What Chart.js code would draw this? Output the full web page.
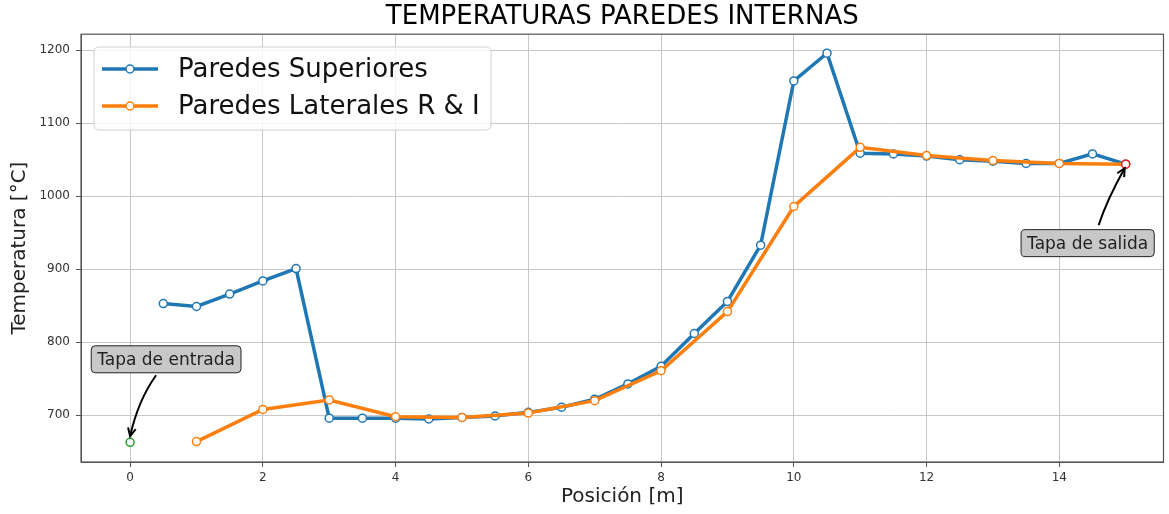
<!DOCTYPE html>
<html>
<head>
<meta charset="utf-8">
<script src="https://cdn.jsdelivr.net/npm/chart.js@4.4.0/dist/chart.umd.min.js"></script>
<style>
  html, body { margin: 0; padding: 0; background: #fff; }
</style>
</head>
<body>
<canvas id="grafico" width="1169" height="514"></canvas>
<script>
// datos
const posSuperiores = [0.5, 1, 1.5, 2, 2.5, 3, 3.5, 4, 4.5, 5, 5.5, 6, 6.5, 7, 7.5, 8, 8.5, 9, 9.5, 10, 10.5, 11, 11.5, 12, 12.5, 13, 13.5, 14, 14.5, 15];
const tempSuperiores = [853, 849, 866, 884, 901, 696, 696, 696, 695, 697, 699, 704, 711, 722, 743, 767, 812, 856, 933, 1158, 1196, 1059, 1058, 1055, 1050, 1048, 1045, 1045, 1058, 1044];

const posLaterales = [1, 2, 3, 4, 5, 6, 7, 8, 9, 10, 11, 12, 13, 14, 15];
const tempLaterales = [664, 708, 721, 698, 697, 703, 720, 761, 842, 986, 1067, 1056, 1049, 1045, 1044];

const posEntrada = [0];
const tempEntrada = [663];
const posSalida = [15];
const tempSalida = [1044];

const xTicks = [0, 2, 4, 6, 8, 10, 12, 14];
const yTicks = [700, 800, 900, 1000, 1100, 1200];

const FUENTE = "'DejaVu Sans', sans-serif";
const AZUL = '#1f77b4';
const NARANJA = '#ff7f0e';

function puntos(xs, ys) {
  return xs.map((x, i) => ({ x: x, y: ys[i] }));
}

// marco completo alrededor del area (como matplotlib)
const marco = {
  id: 'marco',
  afterDraw(chart) {
    const a = chart.chartArea, ctx = chart.ctx;
    ctx.save();
    ctx.strokeStyle = '#555';
    ctx.lineWidth = 1.2;
    ctx.strokeRect(a.left, a.top, a.right - a.left, a.bottom - a.top);
    ctx.restore();
  }
};

// leyenda dibujada a mano: linea + marcador
const leyenda = {
  id: 'leyenda',
  afterDraw(chart) {
    const ctx = chart.ctx;
    const x0 = 94, y0 = 47, w = 397, h = 83;
    ctx.save();
    ctx.fillStyle = 'rgba(255,255,255,0.8)';
    ctx.strokeStyle = '#d0d0d0';
    ctx.lineWidth = 1;
    ctx.beginPath();
    ctx.roundRect(x0, y0, w, h, 5);
    ctx.fill();
    ctx.stroke();
    const filas = [
      { texto: chart.data.datasets[0].label, color: AZUL, y: 69 },
      { texto: chart.data.datasets[1].label, color: NARANJA, y: 106 }
    ];
    filas.forEach(f => {
      ctx.strokeStyle = f.color;
      ctx.lineWidth = 3.5;
      ctx.beginPath();
      ctx.moveTo(102, f.y);
      ctx.lineTo(158, f.y);
      ctx.stroke();
      ctx.fillStyle = '#fff';
      ctx.lineWidth = 1.5;
      ctx.beginPath();
      ctx.arc(130, f.y, 4, 0, Math.PI * 2);
      ctx.fill();
      ctx.stroke();
      ctx.fillStyle = '#111';
      ctx.font = '26px ' + FUENTE;
      ctx.textBaseline = 'middle';
      ctx.textAlign = 'left';
      ctx.fillText(f.texto, 178, f.y + 1);
    });
    ctx.restore();
  }
};

// anotaciones con flecha curva
const notas = [
  { texto: 'Tapa de entrada', x: 0, y: 663, caja: [36, -83], desde: [26, -67], ctrl: [8, -42], hasta: [0, -6] },
  { texto: 'Tapa de salida', x: 15, y: 1044, caja: [-38, 79], desde: [-27, 61], ctrl: [-19, 36], hasta: [-1, 4] }
];

const anotaciones = {
  id: 'anotaciones',
  afterDraw(chart) {
    const ctx = chart.ctx;
    const sx = chart.scales.x, sy = chart.scales.y;
    ctx.save();
    ctx.font = '17px ' + FUENTE;
    notas.forEach(n => {
      const px = sx.getPixelForValue(n.x);
      const py = sy.getPixelForValue(n.y);
      // flecha
      const ax = px + n.desde[0], ay = py + n.desde[1];
      const cx = px + n.ctrl[0], cy = py + n.ctrl[1];
      const bx = px + n.hasta[0], by = py + n.hasta[1];
      ctx.strokeStyle = '#000';
      ctx.lineWidth = 2;
      ctx.beginPath();
      ctx.moveTo(ax, ay);
      ctx.quadraticCurveTo(cx, cy, bx, by);
      ctx.stroke();
      const ang = Math.atan2(by - cy, bx - cx);
      ctx.beginPath();
      ctx.moveTo(bx - 9 * Math.cos(ang - 0.45), by - 9 * Math.sin(ang - 0.45));
      ctx.lineTo(bx, by);
      ctx.lineTo(bx - 9 * Math.cos(ang + 0.45), by - 9 * Math.sin(ang + 0.45));
      ctx.stroke();
      // caja
      const tw = ctx.measureText(n.texto).width;
      const bw = tw + 12, bh = 27;
      const cxx = px + n.caja[0], cyy = py + n.caja[1];
      ctx.fillStyle = '#c8c8c8';
      ctx.strokeStyle = '#222';
      ctx.lineWidth = 1;
      ctx.beginPath();
      ctx.roundRect(cxx - bw / 2, cyy - bh / 2, bw, bh, 4);
      ctx.fill();
      ctx.stroke();
      ctx.fillStyle = '#222';
      ctx.textAlign = 'center';
      ctx.textBaseline = 'middle';
      ctx.fillText(n.texto, cxx, cyy + 1);
    });
    ctx.restore();
  }
};

const estiloSerie = (color) => ({
  borderColor: color,
  borderWidth: 3.5,
  pointRadius: 4,
  pointHoverRadius: 4,
  pointBorderWidth: 1.5,
  pointBackgroundColor: '#fff',
  pointBorderColor: color,
  tension: 0,
  fill: false
});

new Chart(document.getElementById('grafico'), {
  type: 'line',
  data: {
    datasets: [
      Object.assign({ label: 'Paredes Superiores', data: puntos(posSuperiores, tempSuperiores), order: 3 }, estiloSerie(AZUL)),
      Object.assign({ label: 'Paredes Laterales R & I', data: puntos(posLaterales, tempLaterales), order: 2 }, estiloSerie(NARANJA)),
      Object.assign({ label: 'entrada', data: puntos(posEntrada, tempEntrada), order: 1, showLine: false }, estiloSerie('#2ca02c')),
      Object.assign({ label: 'salida', data: puntos(posSalida, tempSalida), order: 0, showLine: false }, estiloSerie('#d62728'))
    ]
  },
  options: {
    responsive: false,
    animation: false,
    devicePixelRatio: 1,
    layout: { padding: { left: 0, right: 1, top: 0, bottom: 0 } },
    plugins: {
      legend: { display: false },
      tooltip: { enabled: false },
      title: {
        display: true,
        fullSize: false,
        text: 'TEMPERATURAS PAREDES INTERNAS',
        color: '#000',
        font: { family: FUENTE, size: 26, weight: 'normal', lineHeight: 1.2 },
        padding: { top: 2, bottom: 1 }
      }
    },
    scales: {
      x: {
        type: 'linear',
        min: -0.74,
        max: 15.57,
        afterBuildTicks: s => { s.ticks = xTicks.map(v => ({ value: v })); },
        afterFit: s => { s.height = 52; s.paddingLeft = 0; s.paddingRight = 0; },
        ticks: { color: '#333', font: { family: FUENTE, size: 12 }, padding: 4, maxRotation: 0 },
        grid: { color: '#c8c8c8', lineWidth: 1, tickLength: 5, tickColor: '#555' },
        border: { color: '#555', width: 1 },
        title: { display: true, text: 'Posición [m]', color: '#222', font: { family: FUENTE, size: 20 }, padding: { top: 0, bottom: 5 } }
      },
      y: {
        type: 'linear',
        min: 636,
        max: 1222,
        afterBuildTicks: s => { s.ticks = yTicks.map(v => ({ value: v })); },
        afterFit: s => { s.width = 81; },
        ticks: { color: '#333', font: { family: FUENTE, size: 12 }, padding: 6, callback: v => String(v) },
        grid: { color: '#c8c8c8', lineWidth: 1, tickLength: 5, tickColor: '#555' },
        border: { color: '#555', width: 1 },
        title: { display: true, text: 'Temperatura [°C]', color: '#222', font: { family: FUENTE, size: 20 }, padding: { top: 8, bottom: 0 } }
      }
    }
  },
  plugins: [marco, leyenda, anotaciones]
});
</script>
</body>
</html>
